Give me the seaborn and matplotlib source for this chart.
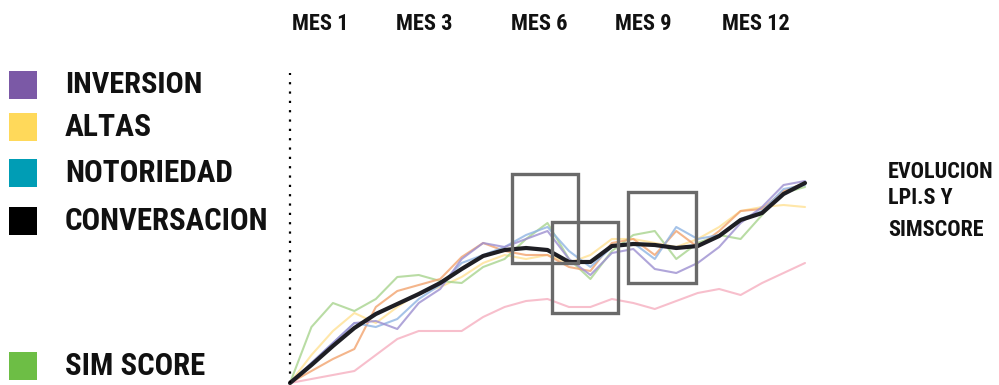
import numpy as np
import pandas as pd
import matplotlib
matplotlib.use("Agg")
import matplotlib.pyplot as plt
from matplotlib import font_manager
from matplotlib.patches import Rectangle
from matplotlib.transforms import blended_transform_factory
import seaborn as sns

# ---- data -------------------------------------------------------------
periodo = list(range(25))

conversacion = [0, 9, 18.5, 27.5, 34.5, 39.5, 44.5, 50, 57, 63.5, 66.5, 67.5, 66.5,
                60.5, 60.5, 68.5, 69.5, 69, 67.5, 68.5, 73.5, 81.5, 85, 94.5, 100]
inversion = [0, 10, 20, 30, 31, 27, 40, 47, 62, 70, 68, 72, 76,
             62, 54, 65, 67, 57, 55, 60, 68, 80, 88, 99, 101]
notoriedad = [0, 10, 20, 30, 28, 32, 42, 49, 60, 64, 68, 74, 78,
              66, 58, 68, 70, 62, 78, 72, 74, 82, 86, 97, 99]
altas = [0, 14, 26, 35, 30, 38, 45, 48, 53, 60, 64, 62, 64,
         60, 64, 72, 72, 70, 68, 72, 78, 86, 88, 89, 88]
naranja = [0, 6, 12, 17, 38, 46, 49, 52, 63, 70, 66, 64, 64,
           58, 56, 70, 72, 64, 76, 68, 76, 86, 87, 96, 100]
sim_score = [0, 28, 40, 36, 42, 53, 54, 51, 50, 58, 62, 72, 80,
             62, 52, 66, 74, 76, 62, 70, 74, 72, 84, 95, 98]
rosa = [0, 2, 4, 6, 14, 22, 26, 26, 26, 33, 38, 41, 42,
        38, 38, 42, 40, 37, 41, 45, 47, 44, 50, 55, 60]

meses = ["MES 1", "MES 3", "MES 6", "MES 9", "MES 12"]
meses_pos = [1.40, 6.24, 11.6, 16.45, 21.7]

# highlighted windows: (x start, x end, y low, y high)
ventanas = [(10.34, 13.42, 60, 104.5),
            (12.21, 15.28, 35, 80.5),
            (15.75, 18.92, 50, 95.5)]

leyenda = ["INVERSION", "ALTAS", "NOTORIEDAD", "CONVERSACION", "SIM SCORE"]
leyenda_col = ["#7B59A6", "#FFD95A", "#009DB5", "#000000", "#6DBE45"]

titulo = ["EVOLUCION", "LPI.S Y", "SIMSCORE"]

series = {
    "rosa": rosa,
    "altas": altas,
    "sim": sim_score,
    "naranja": naranja,
    "notoriedad": notoriedad,
    "inversion": inversion,
    "conversacion": conversacion,
}
palette = {
    "rosa": "#F6AFC0",
    "altas": "#FFE194",
    "sim": "#A8D48E",
    "naranja": "#F2A36E",
    "notoriedad": "#8FB4E3",
    "inversion": "#9C8FD0",
    "conversacion": "#1E1E24",
}

df = pd.DataFrame(
    [(k, x, v) for k, vals in series.items() for x, v in zip(periodo, vals)],
    columns=["serie", "periodo", "valor"],
)

# ---- font: prefer a narrow sans if one is installed --------------------
sns.set_theme(style="white")
installed = {f.name for f in font_manager.fontManager.ttflist}
family = "DejaVu Sans"
for cand in ["Roboto Condensed", "Liberation Sans Narrow", "Open Sans Condensed",
             "Roboto", "Lato"]:
    if cand in installed:
        family = cand
        break
plt.rcParams["font.family"] = [family, "DejaVu Sans"]

fig = plt.figure(figsize=(9.99, 3.85), dpi=100)
ax = fig.add_axes([290 / 999, 2 / 385, 515 / 999, 310 / 385])

thin = df[df["serie"] != "conversacion"]
sns.lineplot(data=thin, x="periodo", y="valor", hue="serie", palette=palette,
             linewidth=1.5, alpha=0.8, legend=False, ax=ax, clip_on=False)
sns.lineplot(data=df[df["serie"] == "conversacion"], x="periodo", y="valor",
             color=palette["conversacion"], linewidth=3.0, legend=False, ax=ax,
             clip_on=False)

for x0, x1, y0, y1 in ventanas:
    ax.add_patch(Rectangle((x0, y0), x1 - x0, y1 - y0, fill=False,
                           edgecolor="#6A6A6A", linewidth=2.4, zorder=5))

ax.set_xlim(0, 24)
ax.set_ylim(0, 155)
ax.set_xticks([])
ax.set_yticks([])
ax.set_xlabel("")
ax.set_ylabel("")
for s in ax.spines.values():
    s.set_visible(False)
ax.axvline(0, color="black", linewidth=1.6, linestyle=(0, (1, 3.2)), clip_on=False)

renderer = fig.canvas.get_renderer()


def fit_width(txt, width_px):
    bb = txt.get_window_extent(renderer)
    txt.set_fontsize(txt.get_fontsize() * width_px / bb.width)


# month headers share one size, set from the widest label
trans = blended_transform_factory(ax.transData, fig.transFigure)
mt = [ax.text(xp, 1 - 24 / 385, lab, transform=trans, ha="center", va="center",
              fontsize=17, fontweight="bold", color="#111111")
      for lab, xp in zip(meses, meses_pos)]
bb = mt[-1].get_window_extent(renderer)
msize = mt[-1].get_fontsize() * 68 / bb.width
for t in mt:
    t.set_fontsize(msize)

# legend squares and labels
leg_y = [85, 127, 173, 221, 366]
leg_w = [137, 87, 168, 203, 140]
for lab, col, yc, w in zip(leyenda, leyenda_col, leg_y, leg_w):
    fig.patches.append(Rectangle((9 / 999, (385 - yc - 14) / 385), 28 / 999, 28 / 385,
                                 transform=fig.transFigure, facecolor=col,
                                 edgecolor="none"))
    t = fig.text(65 / 999, (385 - yc) / 385, lab, ha="left", va="center",
                 fontsize=22, fontweight="bold", color="#111111")
    fit_width(t, w)

tit_y = [172, 198, 230]
tt = [fig.text(888 / 999, (385 - y) / 385, s, ha="left", va="center",
               fontsize=14, fontweight="bold", color="#111111")
      for s, y in zip(titulo, tit_y)]
bb = tt[0].get_window_extent(renderer)
size = tt[0].get_fontsize() * 106 / bb.width
for t in tt:
    t.set_fontsize(size)

fig.savefig("out.png", dpi=100)
